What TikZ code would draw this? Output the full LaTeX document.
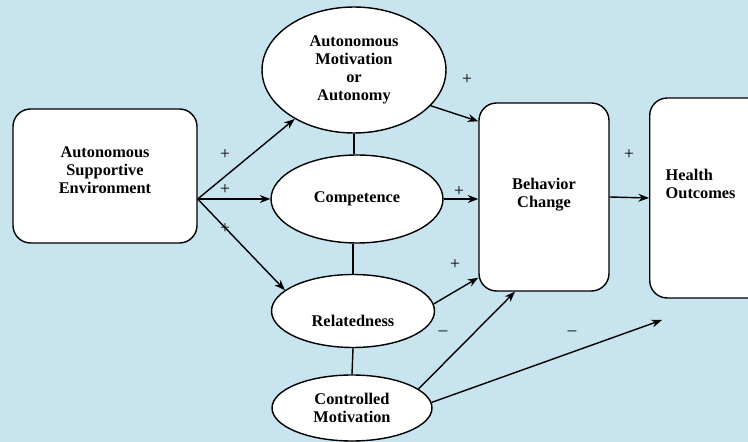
\documentclass[tikz,border=0pt]{standalone}
\usepackage{fontspec}
\setmainfont{Liberation Serif}
\usetikzlibrary{arrows.meta,shapes.geometric}
\definecolor{bgblue}{RGB}{200,228,238}

\begin{document}
\begin{tikzpicture}[x=0.02cm,y=-0.02cm,>={Stealth[length=6pt,width=4.5pt]},thick,
    box/.style={draw,fill=white,rounded corners=0.35cm,align=center,
        font=\bfseries\fontsize{9.3}{10.2}\selectfont},
    oval/.style={draw,fill=white,ellipse,inner sep=0pt,align=center,
        font=\bfseries\fontsize{9.3}{10.2}\selectfont},
    sign/.style={inner sep=0pt,font=\fontsize{10}{11}\selectfont}]
    \clip (0,0) rectangle (748,442);
    \fill[bgblue] (0,0) rectangle (748,442);

    \node[box,minimum width=3.68cm,minimum height=2.68cm,text depth=6.8pt] (ase) at (105,176) {Autonomous\\Supportive\\Environment};
    \node[oval,minimum width=3.68cm,minimum height=2.52cm] (aut) at (354,70) {Autonomous\\Motivation\\or\\Autonomy};
    \node[oval,minimum width=3.44cm,minimum height=1.76cm] (comp) at (357,199) {Competence};
    \node[oval,minimum width=3.26cm,minimum height=1.46cm,text height=18pt,text depth=0pt] (rel) at (353,311) {Relatedness};
    \node[oval,minimum width=3.2cm,minimum height=1.32cm] (ctrl) at (352,408) {Controlled\\Motivation};
    \node[box,minimum width=2.6cm,minimum height=3.76cm,text depth=5pt] (bc) at (544,197) {Behavior\\Change};
    \node[box,minimum width=2.6cm,minimum height=4cm,text width=1.96cm,inner xsep=0.32cm,
        align=left,anchor=west,text depth=26.2pt] (ho) at (649,198) {Health\\Outcomes};

    \coordinate (asep) at (ase.east |- comp.west);
    \coordinate (hoend) at (662,320);

    % links between the needs
    \draw (aut.south) -- (aut.south |- comp.north);
    \draw (rel.north) -- (rel.north |- comp.south);
    \draw (rel.south) -- (ctrl.north);

    \draw[->] (asep) -- (aut);
    \draw[->] (asep) -- (comp.west);
    \draw[->] (asep) -- (rel.163);
    \draw[->] (aut.-25) -- ([yshift=-0.38cm]bc.north west);
    \draw[->] (comp.east) -- (bc.west |- comp.east);
    \draw[->] (rel.5) -- ([yshift=0.28cm]bc.south west);
    \draw[->] (ctrl.16) -- ([xshift=-0.58cm]bc.south);
    \draw[->] (ctrl.4) -- (hoend);
    \draw[->] (bc.east) -- (ho.west);

    \node[sign] (p-aut) at (225,155) {+};
    \node[sign] (p-comp) at (225,190) {+};
    \node[sign] (p-rel) at (225,229) {+};
    \node[sign] (p-autbc) at (467,80) {+};
    \node[sign] (p-compbc) at (459,192) {+};
    \node[sign] (p-relbc) at (455,265) {+};
    \node[sign] (p-bcho) at (629,155) {+};
    \node[sign] (m-ctrlbc) at (443,333) {--};
    \node[sign] (m-ctrlho) at (572,333) {--};
\end{tikzpicture}
\end{document}
